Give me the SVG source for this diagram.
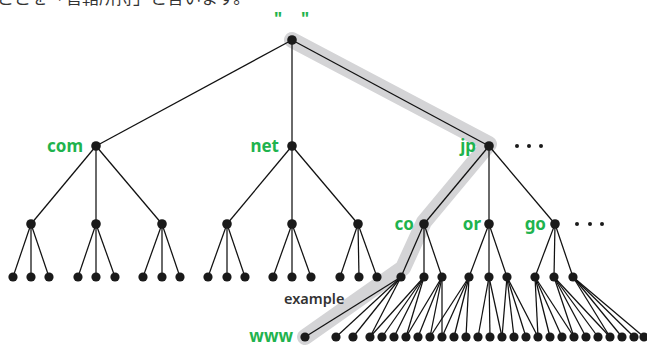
<svg xmlns="http://www.w3.org/2000/svg" width="647" height="345" viewBox="0 0 647 345">
<style>
.e line{stroke:#111;stroke-width:1.25}
.n{fill:#1a1a1a}
.lb{font-family:"Noto Sans","Open Sans","Liberation Sans",sans-serif;font-size:17px;font-weight:bold;fill:#1fb34e;text-anchor:end}
.dt{fill:#1a1a1a}
</style>
<rect width="647" height="345" fill="#fff"/>
<text x="-3" y="3.5" font-family="'Noto Sans CJK JP',sans-serif" font-size="17" fill="#333">ここを「管轄所持」と言います。</text>
<text class="lb" style="text-anchor:middle"><tspan x="278" y="25">"</tspan><tspan x="305" y="25">"</tspan></text>
<polyline id="highlight" points="292,40 489,144 424,222 403,268 305,337" fill="none" stroke="#d4d4d6" stroke-width="16" stroke-linejoin="round" stroke-linecap="round"/>
<g id="connectors" class="e">
<line x1="292" y1="40" x2="96" y2="146"/><line x1="292" y1="40" x2="292" y2="146"/><line x1="292" y1="40" x2="489" y2="146"/>
<line x1="96" y1="146" x2="31" y2="224"/><line x1="96" y1="146" x2="96" y2="224"/><line x1="96" y1="146" x2="162" y2="224"/>
<line x1="292" y1="146" x2="227" y2="224"/><line x1="292" y1="146" x2="292" y2="224"/><line x1="292" y1="146" x2="358" y2="224"/>
<line x1="489" y1="146" x2="424" y2="224"/><line x1="489" y1="146" x2="489" y2="224"/><line x1="489" y1="146" x2="555" y2="224"/>
<line x1="31" y1="224" x2="13" y2="277"/><line x1="31" y1="224" x2="31" y2="277"/><line x1="31" y1="224" x2="49" y2="277"/>
<line x1="96" y1="224" x2="78" y2="277"/><line x1="96" y1="224" x2="96" y2="277"/><line x1="96" y1="224" x2="115" y2="277"/>
<line x1="162" y1="224" x2="143" y2="277"/><line x1="162" y1="224" x2="162" y2="277"/><line x1="162" y1="224" x2="180" y2="277"/>
<line x1="227" y1="224" x2="208" y2="277"/><line x1="227" y1="224" x2="227" y2="277"/><line x1="227" y1="224" x2="245" y2="277"/>
<line x1="292" y1="224" x2="273" y2="277"/><line x1="292" y1="224" x2="292" y2="277"/><line x1="292" y1="224" x2="311" y2="277"/>
<line x1="358" y1="224" x2="340" y2="277"/><line x1="358" y1="224" x2="359" y2="277"/><line x1="358" y1="224" x2="377" y2="277"/>
<line x1="424" y1="224" x2="401" y2="277"/><line x1="424" y1="224" x2="424" y2="277"/><line x1="424" y1="224" x2="442" y2="277"/>
<line x1="489" y1="224" x2="469" y2="277"/><line x1="489" y1="224" x2="489" y2="277"/><line x1="489" y1="224" x2="507" y2="277"/>
<line x1="555" y1="224" x2="535" y2="277"/><line x1="555" y1="224" x2="554" y2="277"/><line x1="555" y1="224" x2="573" y2="277"/>
<line x1="401" y1="277" x2="305" y2="337"/><line x1="401" y1="277" x2="336" y2="337"/><line x1="401" y1="277" x2="353" y2="337"/><line x1="401" y1="277" x2="370" y2="337"/>
<line x1="424" y1="277" x2="370" y2="337"/><line x1="424" y1="277" x2="382" y2="337"/><line x1="424" y1="277" x2="394" y2="337"/><line x1="424" y1="277" x2="406" y2="337"/>
<line x1="442" y1="277" x2="406" y2="337"/><line x1="442" y1="277" x2="418" y2="337"/><line x1="442" y1="277" x2="430" y2="337"/><line x1="442" y1="277" x2="442" y2="337"/>
<line x1="469" y1="277" x2="430" y2="337"/><line x1="469" y1="277" x2="442" y2="337"/><line x1="469" y1="277" x2="454" y2="337"/><line x1="469" y1="277" x2="466" y2="337"/>
<line x1="489" y1="277" x2="478" y2="337"/><line x1="489" y1="277" x2="490" y2="337"/><line x1="489" y1="277" x2="502" y2="337"/>
<line x1="507" y1="277" x2="502" y2="337"/><line x1="507" y1="277" x2="514" y2="337"/><line x1="507" y1="277" x2="526" y2="337"/><line x1="507" y1="277" x2="538" y2="337"/>
<line x1="535" y1="277" x2="538" y2="337"/><line x1="535" y1="277" x2="550" y2="337"/><line x1="535" y1="277" x2="562" y2="337"/><line x1="535" y1="277" x2="574" y2="337"/>
<line x1="554" y1="277" x2="574" y2="337"/><line x1="554" y1="277" x2="586" y2="337"/><line x1="554" y1="277" x2="598" y2="337"/><line x1="554" y1="277" x2="610" y2="337"/>
<line x1="573" y1="277" x2="610" y2="337"/><line x1="573" y1="277" x2="622" y2="337"/><line x1="573" y1="277" x2="634" y2="337"/><line x1="573" y1="277" x2="644" y2="337"/>
</g>
<g id="root"><circle class="n" cx="292" cy="40" r="4.8"/></g>
<g id="com"><circle class="n" cx="96" cy="146" r="4.8"/><text class="lb" x="83" y="152">com</text></g>
<g id="net"><circle class="n" cx="292" cy="146" r="4.8"/><text class="lb" x="279" y="152">net</text></g>
<g id="jp"><circle class="n" cx="489" cy="146" r="4.8"/><text class="lb" x="476" y="152">jp</text></g>
<g id="more1" class="dt"><circle cx="517" cy="146" r="2"/><circle cx="529" cy="146" r="2"/><circle cx="541" cy="146" r="2"/></g>
<g id="level2" class="n">
<circle cx="31" cy="224" r="4.8"/><circle cx="96" cy="224" r="4.8"/><circle cx="162" cy="224" r="4.8"/>
<circle cx="227" cy="224" r="4.8"/><circle cx="292" cy="224" r="4.8"/><circle cx="358" cy="224" r="4.8"/>
</g>
<g id="co"><circle class="n" cx="424" cy="224" r="4.8"/><text class="lb" x="414" y="230">co</text></g>
<g id="or"><circle class="n" cx="489" cy="224" r="4.8"/><text class="lb" x="481" y="230">or</text></g>
<g id="go"><circle class="n" cx="555" cy="224" r="4.8"/><text class="lb" x="546" y="230">go</text></g>
<g id="more2" class="dt"><circle cx="577" cy="224" r="2"/><circle cx="590" cy="224" r="2"/><circle cx="602" cy="224" r="2"/></g>
<g id="level3" class="n">
<circle cx="13" cy="277" r="4.6"/><circle cx="31" cy="277" r="4.6"/><circle cx="49" cy="277" r="4.6"/>
<circle cx="78" cy="277" r="4.6"/><circle cx="96" cy="277" r="4.6"/><circle cx="115" cy="277" r="4.6"/>
<circle cx="143" cy="277" r="4.6"/><circle cx="162" cy="277" r="4.6"/><circle cx="180" cy="277" r="4.6"/>
<circle cx="208" cy="277" r="4.6"/><circle cx="227" cy="277" r="4.6"/><circle cx="245" cy="277" r="4.6"/>
<circle cx="273" cy="277" r="4.6"/><circle cx="292" cy="277" r="4.6"/><circle cx="311" cy="277" r="4.6"/>
<circle cx="340" cy="277" r="4.6"/><circle cx="359" cy="277" r="4.6"/><circle cx="377" cy="277" r="4.6"/>
<circle cx="424" cy="277" r="4.6"/><circle cx="442" cy="277" r="4.6"/>
<circle cx="469" cy="277" r="4.6"/><circle cx="489" cy="277" r="4.6"/><circle cx="507" cy="277" r="4.6"/>
<circle cx="535" cy="277" r="4.6"/><circle cx="554" cy="277" r="4.6"/><circle cx="573" cy="277" r="4.6"/>
</g>
<g id="example"><circle class="n" cx="401" cy="277" r="4.6"/><text x="284" y="304" font-family="'Noto Sans','Open Sans',sans-serif" font-size="14.5" font-weight="600" fill="#333">example</text></g>
<g id="www"><circle class="n" cx="305" cy="337" r="4.6"/><text class="lb" x="293" y="341.5">www</text></g>
<g id="leaves" class="n">
<circle cx="336" cy="337" r="4.6"/><circle cx="353" cy="337" r="4.6"/><circle cx="370" cy="337" r="4.6"/><circle cx="382" cy="337" r="4.6"/>
<circle cx="394" cy="337" r="4.6"/><circle cx="406" cy="337" r="4.6"/><circle cx="418" cy="337" r="4.6"/><circle cx="430" cy="337" r="4.6"/>
<circle cx="442" cy="337" r="4.6"/><circle cx="454" cy="337" r="4.6"/><circle cx="466" cy="337" r="4.6"/><circle cx="478" cy="337" r="4.6"/>
<circle cx="490" cy="337" r="4.6"/><circle cx="502" cy="337" r="4.6"/><circle cx="514" cy="337" r="4.6"/><circle cx="526" cy="337" r="4.6"/>
<circle cx="538" cy="337" r="4.6"/><circle cx="550" cy="337" r="4.6"/><circle cx="562" cy="337" r="4.6"/><circle cx="574" cy="337" r="4.6"/>
<circle cx="586" cy="337" r="4.6"/><circle cx="598" cy="337" r="4.6"/><circle cx="610" cy="337" r="4.6"/><circle cx="622" cy="337" r="4.6"/>
<circle cx="634" cy="337" r="4.6"/><circle cx="644" cy="337" r="4.6"/>
</g>
</svg>
